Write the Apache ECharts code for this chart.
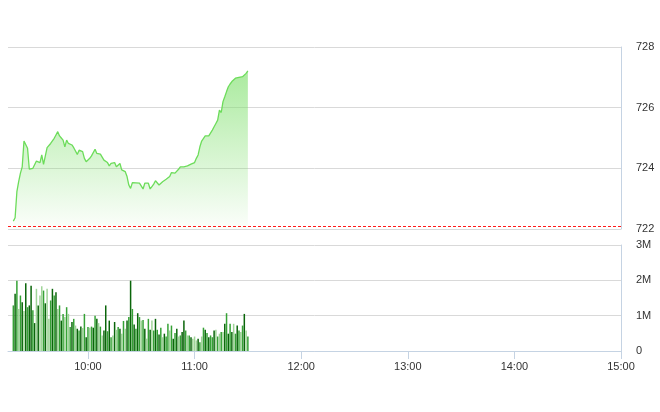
<!DOCTYPE html>
<html>
<head>
<meta charset="utf-8">
<script src="https://cdn.jsdelivr.net/npm/echarts@6/dist/echarts.min.js"></script>
<style>
html,body{margin:0;padding:0;background:#fff;}
#chart{width:660px;height:412px;}
</style>
</head>
<body>
<div id="chart"></div>
<script>
// Session: minutes after midnight (09:15 .. 15:00); first trade at 09:18, one point per minute
var sessionStart = 555;
var sessionEnd = 900;
var firstMinute = 558;
var timeTicks = [600, 660, 720, 780, 840, 900];
var priceTicks = [722, 724, 726, 728];
var volumeTicks = [0, 1, 2, 3];
var referencePrice = 722.1;

var prices = [
  722.26,722.37,723.23,723.56,723.84,724.05,724.90,724.86,724.66,723.97,
  724.02,724.00,724.02,724.24,724.24,724.19,724.44,724.13,724.16,724.68,
  724.66,724.82,724.79,724.99,725.10,725.21,725.07,725.00,724.93,724.71,
  724.93,724.82,724.82,724.77,724.68,724.71,724.46,724.60,724.63,724.55,
  724.33,724.22,724.16,724.33,724.41,724.47,724.63,724.49,724.48,724.47,
  724.41,724.27,724.33,724.19,724.08,724.16,724.22,724.19,724.05,724.03,
  724.16,723.95,723.89,723.89,723.73,723.45,723.34,723.53,723.51,723.52,
  723.53,723.51,723.48,723.32,723.51,723.53,723.51,723.32,723.40,723.48,
  723.59,723.53,723.45,723.51,723.56,723.59,723.64,723.68,723.73,723.86,
  723.81,723.84,723.86,723.97,724.05,724.05,724.05,724.11,724.08,724.11,
  724.14,724.16,724.19,724.33,724.44,724.71,724.90,724.93,725.07,725.07,
  725.07,725.09,725.26,725.37,725.48,725.59,725.92,725.84,726.20,726.36,
  726.53,726.69,726.78,726.86,726.91,726.97,727.02,727.00,726.95,727.02,
  727.05,727.13,727.21
];

// volume in millions
var volumes = [
  1.29,1.62,1.99,1.19,1.57,1.38,1.13,1.92,1.24,1.29,
  1.85,1.15,0.79,1.76,1.29,1.57,1.83,1.71,1.35,1.76,
  0.91,1.43,1.76,1.57,1.66,1.19,1.29,0.86,1.05,0.96,
  1.24,1.05,0.68,0.82,0.91,0.72,0.63,0.58,0.69,0.65,
  1.05,0.39,0.68,0.66,0.69,0.66,1.00,0.91,0.79,0.69,
  0.44,0.58,1.29,0.56,0.86,0.39,0.44,0.82,0.60,0.68,
  0.63,0.49,0.85,0.63,0.86,0.96,1.99,1.19,0.75,0.63,
  1.07,0.96,0.86,0.88,0.63,0.35,0.91,0.60,0.86,0.58,
  0.91,0.60,0.47,0.66,0.39,0.49,0.41,0.77,0.58,0.72,
  0.35,0.51,0.63,0.41,0.44,0.54,0.86,0.58,0.44,0.44,
  0.39,0.35,0.41,0.30,0.35,0.25,0.41,0.66,0.60,0.51,
  0.39,0.44,0.39,0.58,0.60,0.41,0.49,0.54,0.54,0.77,
  1.07,0.49,0.77,0.54,0.77,0.49,0.72,0.58,0.54,0.72,
  1.05,0.58,0.41
];

// volume bar kind: 0 = dark, 1 = medium, 2 = light
var volumeKind = [
  1,0,1,2,1,0,2,0,1,0,
  0,1,0,2,0,2,2,1,0,2,
  2,1,0,1,0,2,1,0,1,2,
  1,2,1,0,1,2,0,1,0,2,
  1,0,1,2,1,0,1,0,2,1,
  2,0,0,1,0,1,2,0,2,1,
  0,2,1,2,0,1,0,1,0,1,
  0,1,2,1,0,2,1,0,2,1,
  0,1,0,1,2,0,1,1,2,1,
  0,1,0,2,1,0,0,1,2,1,
  0,2,2,2,0,1,2,1,0,1,
  0,1,1,0,2,1,2,1,2,0,
  1,0,1,0,2,1,0,1,2,1,
  0,2,1
];

var kindColors = ['#0a650a', '#36a236', '#a0d599'];

function fmtTime(m) {
  var h = Math.floor(m / 60), mm = m % 60;
  return (h < 10 ? '0' : '') + h + ':' + (mm < 10 ? '0' : '') + mm;
}

var priceData = prices.map(function (p, i) { return [firstMinute + i, p]; });
var volumeData = volumes.map(function (v, i) { return [firstMinute + i, v]; });

var chart = echarts.init(document.getElementById('chart'), null, { renderer: 'canvas' });
var labelStyle = { color: '#333', fontSize: 11, fontFamily: 'Liberation Sans, Arial, sans-serif' };
var edgeColor = '#c5d3e3';
var splitColor = '#d9d9d9';

chart.setOption({
  animation: false,
  backgroundColor: '#fff',
  grid: [
    { left: 8, right: 39, top: 47, height: 182 },
    { left: 8, right: 39, top: 245, height: 106 }
  ],
  xAxis: [
    {
      type: 'value', gridIndex: 0, min: sessionStart, max: sessionEnd,
      axisLine: { show: false }, axisTick: { show: false },
      axisLabel: { show: false }, splitLine: { show: false }
    },
    {
      type: 'value', gridIndex: 1, min: sessionStart, max: sessionEnd,
      axisLine: { show: true, lineStyle: { color: edgeColor } },
      axisTick: { show: true, length: 8, customValues: timeTicks, lineStyle: { color: edgeColor } },
      axisLabel: Object.assign({ customValues: timeTicks, margin: 10, formatter: function (v) { return fmtTime(v); } }, labelStyle),
      splitLine: { show: false }
    }
  ],
  yAxis: [
    {
      type: 'value', gridIndex: 0, position: 'right', min: 722, max: 728, interval: 2,
      axisLine: { show: true, lineStyle: { color: edgeColor } },
      axisTick: { show: false },
      axisLabel: Object.assign({ margin: 15 }, labelStyle),
      splitLine: { show: true, lineStyle: { color: splitColor } }
    },
    {
      type: 'value', gridIndex: 1, position: 'right', min: 0, max: 3, interval: 1,
      axisLine: { show: true, lineStyle: { color: edgeColor } },
      axisTick: { show: false },
      axisLabel: Object.assign({ margin: 15, formatter: function (v) { return v === 0 ? '0' : v + 'M'; } }, labelStyle),
      splitLine: { show: true, lineStyle: { color: splitColor } }
    }
  ],
  series: [
    {
      type: 'line', xAxisIndex: 0, yAxisIndex: 0, data: priceData,
      showSymbol: false, smooth: false,
      lineStyle: { color: '#6cdc5a', width: 1.3 },
      areaStyle: {
        origin: 'start',
        color: new echarts.graphic.LinearGradient(0, 0, 0, 1, [
          { offset: 0, color: 'rgba(128,224,110,0.95)' },
          { offset: 1, color: 'rgba(128,224,110,0.04)' }
        ])
      },
      markLine: {
        silent: true, symbol: 'none', label: { show: false },
        lineStyle: { color: '#ff1a1a', type: [3, 2], width: 1 },
        data: [{ yAxis: referencePrice }]
      }
    },
    {
      type: 'bar', xAxisIndex: 1, yAxisIndex: 1, data: volumeData,
      barWidth: 1.5,
      itemStyle: { color: function (p) { return kindColors[volumeKind[p.dataIndex] || 0]; } }
    }
  ]
});
</script>
</body>
</html>
